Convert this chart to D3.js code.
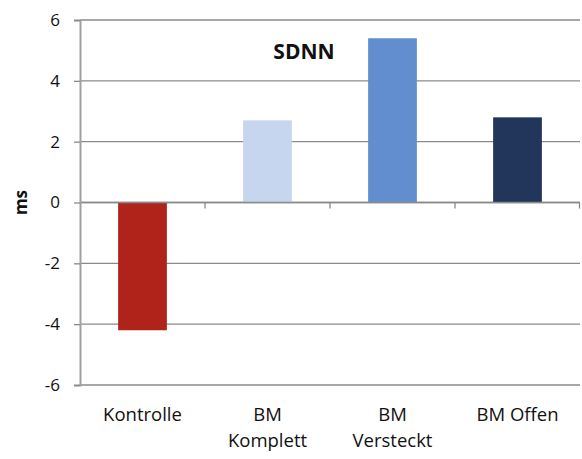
<!DOCTYPE html>
<html>
<head>
<meta charset="utf-8">
<script src="https://cdn.jsdelivr.net/npm/d3@7"></script>
<style>
  html, body { margin: 0; padding: 0; background: #fff; }
  svg { display: block; }
  text { font-family: "Open Sans", Lato, sans-serif; fill: #111; }
</style>
</head>
<body>
<svg id="chart" width="582" height="459"></svg>
<script>
// SDNN change per group (ms)
const categories = [["Kontrolle"], ["BM", "Komplett"], ["BM", "Versteckt"], ["BM Offen"]];
const values = [-4.2, 2.7, 5.4, 2.8];
const colors = ["#B0231A", "#C6D6EE", "#628ECF", "#22365C"];
const yTicks = [-6, -4, -2, 0, 2, 4, 6];
const chartTitle = "SDNN";
const yLabel = "ms";

const svg = d3.select("#chart");
const margin = { left: 80, right: 2, top: 20, bottom: 74 };
const W = 582, H = 459;

const x = d3.scaleBand()
  .domain(d3.range(categories.length))
  .range([margin.left, W - margin.right])
  .paddingInner(0.61)
  .paddingOuter(0.305);

const xOuter = d3.scaleBand()
  .domain(d3.range(categories.length))
  .range([margin.left, W - margin.right]);

const y = d3.scaleLinear().domain([-6, 6]).range([H - margin.bottom, margin.top]);

// horizontal gridlines
svg.append("g")
  .selectAll("line")
  .data(yTicks.filter(t => t !== -6))
  .join("line")
  .attr("x1", margin.left)
  .attr("x2", W - margin.right)
  .attr("y1", d => y(d))
  .attr("y2", d => y(d))
  .attr("stroke", "#8a8a8a")
  .attr("stroke-width", 1.3);

// bars
svg.append("g")
  .selectAll("rect")
  .data(values)
  .join("rect")
  .attr("x", (d, i) => x(i))
  .attr("width", x.bandwidth())
  .attr("y", d => y(Math.max(0, d)))
  .attr("height", d => Math.abs(y(d) - y(0)))
  .attr("fill", (d, i) => colors[i]);

// zero line with category tick marks
const zeroAxis = svg.append("g").attr("transform", `translate(0,${y(0)})`);
zeroAxis.append("line")
  .attr("x1", margin.left).attr("x2", W - margin.right)
  .attr("stroke", "#8a8a8a").attr("stroke-width", 1.3);
zeroAxis.selectAll("line.tick")
  .data(d3.range(1, categories.length + 1))
  .join("line")
  .attr("class", "tick")
  .attr("x1", i => i < categories.length ? xOuter(i) : W - margin.right - 0.5)
  .attr("x2", i => i < categories.length ? xOuter(i) : W - margin.right - 0.5)
  .attr("y1", 0).attr("y2", 6)
  .attr("stroke", "#8a8a8a").attr("stroke-width", 1.3);

// bottom frame line at -6
svg.append("line")
  .attr("x1", margin.left).attr("x2", W - margin.right)
  .attr("y1", y(-6)).attr("y2", y(-6))
  .attr("stroke", "#8a8a8a").attr("stroke-width", 1.3);

// y axis
const yAxis = svg.append("g")
  .attr("transform", `translate(${margin.left},0)`)
  .call(d3.axisLeft(y).tickValues(yTicks).tickSize(6).tickPadding(14).tickFormat(d3.format("d")));
yAxis.select(".domain").attr("stroke", "#a0a0a0").attr("stroke-width", 2);
yAxis.selectAll(".tick line").attr("stroke", "#8a8a8a").attr("stroke-width", 1.3);
yAxis.selectAll(".tick text")
  .attr("font-size", 17)
  .attr("fill", "#111")
  .style("font-family", "'Open Sans', Lato, sans-serif")
  .text(d => d < 0 ? "-" + Math.abs(d) : d);

// category labels
const labels = svg.append("g")
  .selectAll("text")
  .data(categories)
  .join("text")
  .attr("x", (d, i) => xOuter(i) + xOuter.bandwidth() / 2)
  .attr("y", 421)
  .attr("text-anchor", "middle")
  .attr("font-size", 18.5);
labels.selectAll("tspan")
  .data(d => d)
  .join("tspan")
  .attr("x", function () { return d3.select(this.parentNode).attr("x"); })
  .attr("dy", (d, i) => i === 0 ? 0 : 26)
  .text(d => d);

// title
svg.append("text")
  .attr("x", 304)
  .attr("y", 59)
  .attr("text-anchor", "middle")
  .attr("font-size", 21)
  .attr("font-weight", "bold")
  .text(chartTitle);

// y label
svg.append("text")
  .attr("transform", `translate(27,${y(0)}) rotate(-90)`)
  .attr("text-anchor", "middle")
  .attr("font-size", 17)
  .attr("font-weight", "bold")
  .text(yLabel);
</script>
</body>
</html>
